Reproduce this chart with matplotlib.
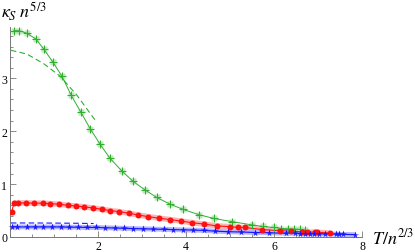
import matplotlib
matplotlib.use("Agg")
import matplotlib.pyplot as plt
from matplotlib.ticker import MultipleLocator

# green (+) series
green_x = [0.09, 0.20, 0.39, 0.59, 0.77, 0.98, 1.18, 1.39, 1.61, 1.82, 2.05, 2.27, 2.54,
           2.80, 3.07, 3.33, 3.64, 3.94, 4.30, 4.64, 5.05, 5.49, 5.74, 6.00, 6.17, 6.32,
           6.46, 6.58, 6.70]
green_y = [3.90, 3.90, 3.85, 3.74, 3.55, 3.30, 3.04, 2.68, 2.36, 2.05, 1.75, 1.49, 1.25,
           1.05, 0.89, 0.75, 0.62, 0.52, 0.42, 0.35, 0.29, 0.23, 0.20, 0.18, 0.16, 0.155,
           0.15, 0.145, 0.13]
green_dash_x = [0.02, 0.38, 0.76, 1.14, 1.52, 1.97]
green_dash_y = [3.53, 3.46, 3.28, 3.04, 2.68, 2.17]

# red (circles) series
red_x = [0.04, 0.09, 0.19, 0.36, 0.55, 0.74, 0.92, 1.11, 1.31, 1.50, 1.69, 1.88, 2.08,
         2.27, 2.48, 2.70, 2.92, 3.14, 3.39, 3.64, 3.89, 4.14, 4.41, 4.70, 5.00, 5.19,
         5.34, 5.73, 6.14, 6.38, 6.63, 6.76, 6.93, 6.98, 7.27]
red_y = [0.48, 0.64, 0.645, 0.645, 0.64, 0.64, 0.63, 0.62, 0.60, 0.585, 0.57, 0.55, 0.525,
         0.50, 0.48, 0.45, 0.415, 0.385, 0.355, 0.33, 0.30, 0.27, 0.245, 0.21, 0.195, 0.18,
         0.18, 0.14, 0.12, 0.11, 0.10, 0.095, 0.09, 0.09, 0.075]

# blue (stars) series
blue_x = [0.05, 0.15, 0.38, 0.57, 0.76, 0.95, 1.15, 1.34, 1.54, 1.74, 1.95, 2.17, 2.38,
          2.59, 2.80, 3.03, 3.26, 3.49, 3.71, 3.94, 4.17, 4.41, 4.67, 4.96, 5.24, 5.57,
          5.89, 6.27, 6.48, 6.59, 6.70, 6.82, 6.91, 7.02, 7.16, 7.42, 7.48, 7.56, 7.84]
blue_y = [0.19, 0.19, 0.19, 0.19, 0.19, 0.19, 0.19, 0.185, 0.185, 0.18, 0.18, 0.175, 0.17,
          0.165, 0.16, 0.155, 0.15, 0.145, 0.14, 0.135, 0.13, 0.125, 0.11, 0.10, 0.095,
          0.085, 0.08, 0.07, 0.07, 0.065, 0.065, 0.06, 0.06, 0.06, 0.055, 0.055, 0.05,
          0.05, 0.045]
blue_dash_x = [0.02, 0.5, 1.0, 1.5, 1.9]
blue_dash_y = [0.265, 0.265, 0.263, 0.26, 0.255]

x_ticks = [2, 4, 6, 8]
y_ticks = [0, 1, 2, 3]

plt.rcParams['mathtext.fontset'] = 'stix'
plt.rcParams['font.family'] = ['Liberation Serif', 'DejaVu Serif']

fig = plt.figure(figsize=(4.15, 2.53), dpi=100)
ax = fig.add_axes([10 / 415, 15 / 253, 352 / 415, 210 / 253])

green, red, blue = '#2fb02f', '#ff1010', '#1515ff'

# pale halos behind the data
ax.plot(red_x[1:], red_y[1:], color='#ffb4b4', lw=4, solid_capstyle='butt', zorder=1)
ax.plot(blue_x, blue_y, color='#b4b4ff', lw=3.5, solid_capstyle='butt', zorder=1)
ax.plot(green_x, green_y, 's', ms=4.5, color='#bfe8bf', mec='none', zorder=1)

ax.plot(green_x, green_y, color=green, lw=0.7, zorder=2)
ax.plot(green_x, green_y, '+', color=green, ms=5.5, mew=0.8, zorder=3)
ax.plot(green_dash_x, green_dash_y, '--', color=green, lw=0.8, dashes=(5, 3), zorder=2)

ax.plot(red_x, red_y, color=red, lw=0.8, zorder=2)
ax.plot(red_x, red_y, 'o', color=red, ms=4.3, mec='none', zorder=3)

ax.plot(blue_x, blue_y, color=blue, lw=0.8, zorder=2)
ax.plot(blue_x, blue_y, '*', color=blue, ms=5.5, mec='none', zorder=3, clip_on=False)
ax.plot(blue_dash_x, blue_dash_y, '--', color=blue, lw=0.8, dashes=(5, 3), zorder=2)

ax.set_xlim(0, 8)
ax.set_ylim(0, 3.97)
for s in ['top', 'right']:
    ax.spines[s].set_visible(False)
for s in ['left', 'bottom']:
    ax.spines[s].set_color('#777777')
    ax.spines[s].set_linewidth(0.7)

ax.set_xticks(x_ticks)
ax.set_yticks(y_ticks)
ax.xaxis.set_minor_locator(MultipleLocator(0.5))
ax.yaxis.set_minor_locator(MultipleLocator(0.2))
ax.tick_params(which='both', direction='in', color='#777777', width=0.6, labelsize=8.5)
ax.tick_params(which='major', length=4)
ax.tick_params(which='minor', length=2)
ax.tick_params(axis='x', pad=2)
ax.tick_params(axis='y', pad=2)

ax.text(1.028, 0.0, r'$T/n^{2/3}$', transform=ax.transAxes, fontsize=13,
        ha='left', va='center')
fig.text(0.003, 0.955, r'$\kappa_S\; n^{5/3}$', fontsize=13, ha='left', va='center')

fig.savefig('out.png', dpi=100)
